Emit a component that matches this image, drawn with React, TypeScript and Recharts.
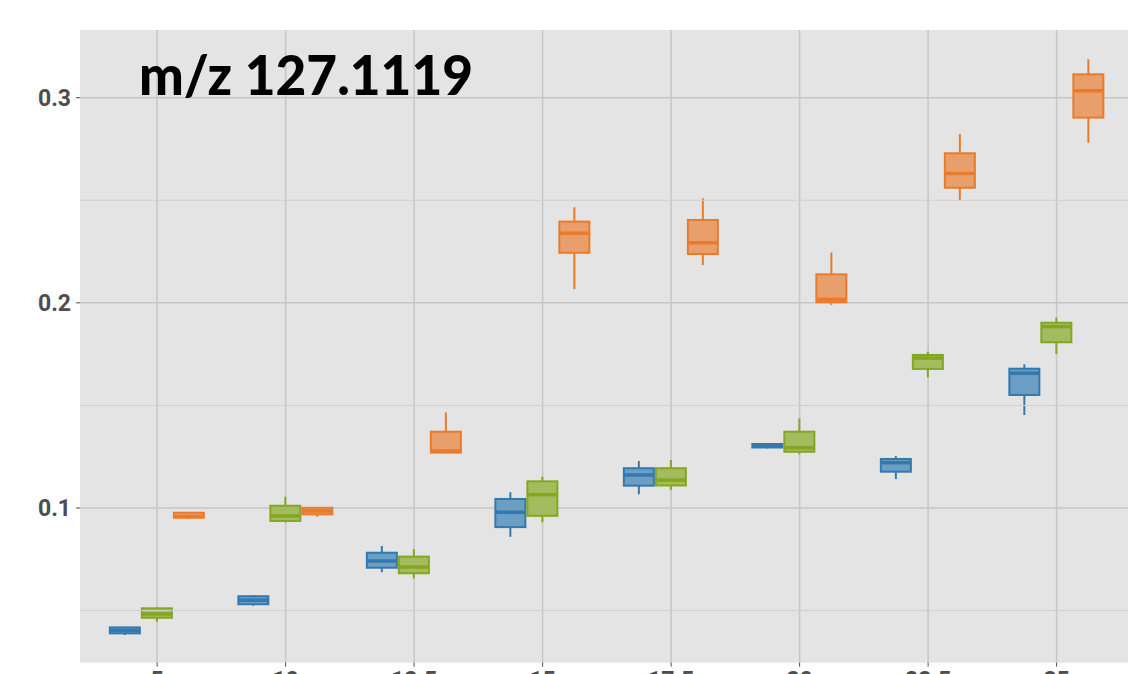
import React from "react";
import {
  ComposedChart,
  Bar,
  XAxis,
  YAxis,
  CartesianGrid,
  ReferenceLine,
} from "recharts";

const categories = ["5", "10", "12.5", "15", "17.5", "20", "22.5", "25"];

// [min, q1, median, q3, max] for each concentration
const blueStats = [
  [0.0381, 0.0389, 0.0403, 0.0418, 0.0421],
  [0.0524, 0.0531, 0.055, 0.057, 0.0576],
  [0.0687, 0.0709, 0.0742, 0.0782, 0.0815],
  [0.086, 0.0907, 0.0979, 0.1044, 0.1077],
  [0.1067, 0.1109, 0.1161, 0.1194, 0.1229],
  [0.129, 0.1295, 0.1305, 0.1312, 0.1314],
  [0.1141, 0.1177, 0.1221, 0.1239, 0.1253],
  [0.1453, 0.1551, 0.1657, 0.1679, 0.17],
];

const greenStats = [
  [0.0446, 0.0465, 0.0483, 0.0511, 0.0516],
  [0.0929, 0.0937, 0.0961, 0.1011, 0.1055],
  [0.0657, 0.0682, 0.0712, 0.0763, 0.0799],
  [0.093, 0.0962, 0.1065, 0.113, 0.1153],
  [0.1088, 0.111, 0.1136, 0.1194, 0.1234],
  [0.1262, 0.1274, 0.1294, 0.1372, 0.1437],
  [0.1637, 0.1678, 0.1731, 0.1746, 0.1762],
  [0.1751, 0.1808, 0.1884, 0.1903, 0.1928],
];

const orangeStats = [
  [0.0946, 0.0953, 0.0959, 0.0977, 0.098],
  [0.0958, 0.0969, 0.0985, 0.1001, 0.1005],
  [0.1265, 0.127, 0.1278, 0.1372, 0.1466],
  [0.2067, 0.2244, 0.2339, 0.2396, 0.2466],
  [0.2184, 0.2238, 0.2293, 0.2404, 0.251],
  [0.199, 0.2003, 0.2017, 0.2139, 0.2246],
  [0.2501, 0.2561, 0.2631, 0.2729, 0.2823],
  [0.2781, 0.2903, 0.3034, 0.3114, 0.3187],
];

const yTicks = [0.1, 0.2, 0.3];
const minorTicks = [0.05, 0.15, 0.25];

const groups = [
  { key: "blue", stroke: "#3479ad", fill: "#6b9ec4" },
  { key: "green", stroke: "#84a620", fill: "#a3bc5f" },
  { key: "orange", stroke: "#ea7b2b", fill: "#e89f6c" },
];

const data = categories.map((cat, i) => ({
  cat,
  blue: [blueStats[i][0], blueStats[i][4]],
  blueStats: blueStats[i],
  green: [greenStats[i][0], greenStats[i][4]],
  greenStats: greenStats[i],
  orange: [orangeStats[i][0], orangeStats[i][4]],
  orangeStats: orangeStats[i],
}));

function BoxShape(props: any) {
  const { x, y, width, height, payload, group, stroke, fill } = props;
  const stats = payload && payload[group + "Stats"];
  if (!stats) return null;
  const [min, q1, med, q3, max] = stats;
  const top = Math.min(y, y + height);
  const h = Math.abs(height);
  const k = max > min ? h / (max - min) : 0;
  const py = (v: number) => top + (max - v) * k;
  const cx = x + width / 2;
  return (
    <g>
      <line x1={cx} x2={cx} y1={py(max)} y2={py(q3)} stroke={stroke} strokeWidth={2} />
      <line x1={cx} x2={cx} y1={py(q1)} y2={py(min)} stroke={stroke} strokeWidth={2} />
      <rect
        x={x}
        y={py(q3)}
        width={width}
        height={Math.max(py(q1) - py(q3), 1)}
        fill={fill}
        stroke={stroke}
        strokeWidth={2}
      />
      <line x1={x} x2={x + width} y1={py(med)} y2={py(med)} stroke={stroke} strokeWidth={3.5} />
    </g>
  );
}

const tickStyle = {
  fill: "#4d4d4d",
  fontSize: 23,
  fontWeight: 700,
  fontFamily: "Roboto, sans-serif",
};

export default function App() {
  return (
    <div
      style={{
        position: "fixed",
        left: 0,
        top: 0,
        width: 1128,
        height: 674,
        overflow: "hidden",
        background: "#ffffff",
      }}
    >
      <ComposedChart
        width={1140}
        height={700}
        data={data}
        margin={{ top: 30, right: 6.3, bottom: 0, left: 0 }}
        barSize={30}
        barGap={2}
      >
        <CartesianGrid
          fill="#e4e4e4"
          fillOpacity={1}
          stroke="#c6c6c6"
          strokeWidth={1.5}
          syncWithTicks
        />
        {minorTicks.map((v) => (
          <ReferenceLine key={v} y={v} stroke="#cfcfcf" strokeWidth={1} />
        ))}
        <XAxis
          dataKey="cat"
          type="category"
          padding={{ left: 12.85, right: 12.85 }}
          height={37.3}
          axisLine={false}
          tickLine={{ stroke: "#4d4d4d" }}
          tickSize={4}
          tickMargin={5}
          tick={tickStyle}
          interval={0}
        />
        <YAxis
          type="number"
          domain={[0.0246, 0.333]}
          allowDataOverflow
          ticks={yTicks}
          tickFormatter={(v: number) => v.toFixed(1)}
          width={80}
          axisLine={false}
          tickLine={{ stroke: "#4d4d4d" }}
          tickSize={4}
          tickMargin={5}
          tick={tickStyle}
        />
        {groups.map((g) => (
          <Bar
            key={g.key}
            dataKey={g.key}
            isAnimationActive={false}
            shape={(p: any) => (
              <BoxShape {...p} group={g.key} stroke={g.stroke} fill={g.fill} />
            )}
          />
        ))}
      </ComposedChart>
      <svg
        width={1128}
        height={674}
        style={{ position: "absolute", left: 0, top: 0, pointerEvents: "none" }}
      >
        <text
          x={139}
          y={95}
          fontFamily="Lato, sans-serif"
          fontWeight={900}
          fontSize={55}
          fill="#000000"
          textLength={334}
          lengthAdjust="spacingAndGlyphs"
        >
          m/z 127.1119
        </text>
      </svg>
    </div>
  );
}
